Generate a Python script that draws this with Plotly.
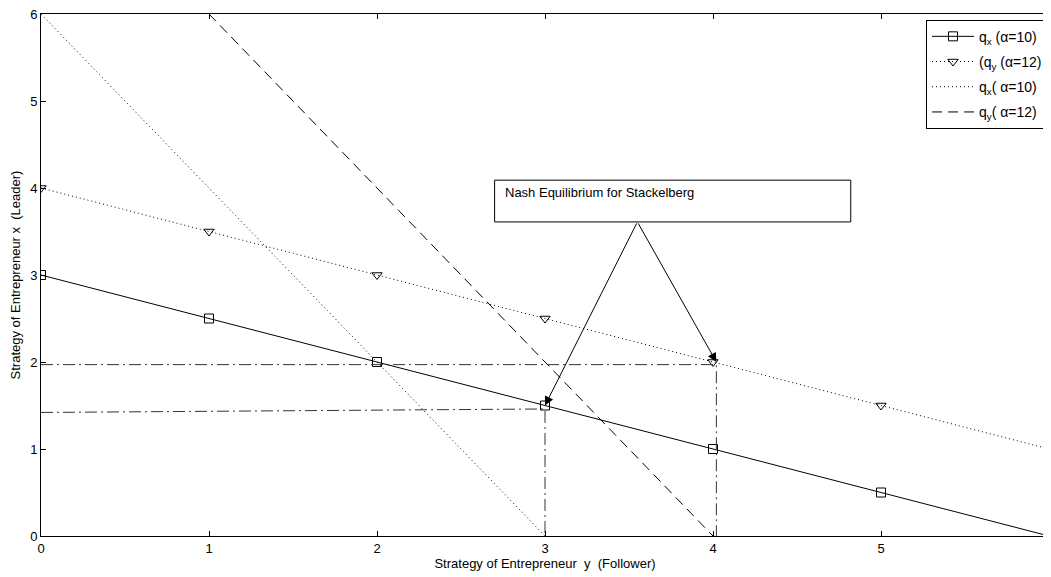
import plotly.graph_objects as go

# strategy values (x axis) and reaction lines
x_pts = [0, 1, 2, 3, 4, 5, 6]
qx_a10 = [3, 2.5, 2, 1.5, 1, 0.5, 0]
qy_a12 = [4, 3.5, 3, 2.5, 2, 1.5, 1]

x_best_x = [0, 3]
y_best_x = [6, 0]
x_best_y = [1, 4]
y_best_y = [6, 0]

# guide lines to the equilibria
guide1_x = [0, 3, 3]
guide1_y = [1.42, 1.46, 0]
guide2_x = [0, 4.02, 4.02]
guide2_y = [1.97, 1.97, 0]

eq_pts = [(3.0, 1.5), (4.02, 2.0)]
arrow_tail = (3.55, 3.61)
box = (2.70, 3.61, 4.82, 4.09)

FAMILY = "Liberation Sans, Arial"
font = dict(family=FAMILY, size=13, color="black")

fig = go.Figure()
fig.add_trace(go.Scatter(
    x=x_pts, y=qx_a10, mode="lines+markers", name="q<sub>x</sub> (α=10)",
    legendgroup="a", line=dict(color="black", width=1),
    marker=dict(symbol="square-open", size=9, color="black", line=dict(width=1)),
))
fig.add_trace(go.Scatter(
    x=x_pts, y=qy_a12, mode="lines+markers", name="(q<sub>y</sub> (α=12)",
    legendgroup="b", line=dict(color="black", width=1, dash="1px,3px"),
    marker=dict(symbol="triangle-down-open", size=9, color="black", line=dict(width=1)),
))
fig.add_trace(go.Scatter(
    x=x_best_x, y=y_best_x, mode="lines", name="q<sub>x</sub>( α=10)",
    legendgroup="c", line=dict(color="black", width=1, dash="1px,3px"),
))
fig.add_trace(go.Scatter(
    x=x_best_y, y=y_best_y, mode="lines", name="q<sub>y</sub>( α=12)",
    legendgroup="d", line=dict(color="black", width=1, dash="10px,6px"),
))
for gx, gy in [(guide1_x, guide1_y), (guide2_x, guide2_y)]:
    fig.add_trace(go.Scatter(
        x=gx, y=gy, mode="lines", showlegend=False,
        line=dict(color="#333333", width=1, dash="12px,4px,2px,4px"),
    ))

fig.add_shape(type="rect", x0=box[0], y0=box[1], x1=box[2], y1=box[3],
              line=dict(color="black", width=1), fillcolor="white")
fig.add_annotation(x=box[0], y=box[3], xref="x", yref="y", text="Nash Equilibrium for Stackelberg",
                   showarrow=False, xanchor="left", yanchor="top", xshift=8, yshift=-3,
                   font=dict(family=FAMILY, size=13, color="black"))
for ex, ey in eq_pts:
    fig.add_annotation(x=ex, y=ey, ax=arrow_tail[0], ay=arrow_tail[1],
                       xref="x", yref="y", axref="x", ayref="y", text="",
                       showarrow=True, arrowhead=2, arrowsize=1.8, arrowwidth=1,
                       arrowcolor="black")

axis_common = dict(showgrid=False, zeroline=False, showline=True, linecolor="black",
                   linewidth=1, mirror="ticks", ticks="inside", ticklen=5,
                   tickcolor="black", tickfont=font, dtick=1, automargin=False,
                   ticklabeloverflow="allow")
fig.update_xaxes(range=[0, 6], title=dict(text="Strategy of Entrepreneur  y  (Follower)", font=font, standoff=2),
                 **axis_common)
fig.update_yaxes(range=[0, 6], title=dict(text="Strategy of Entrepreneur x  (Leader)", font=font, standoff=7),
                 **axis_common)
# page body adds an 8px offset, so the figure is drawn a little smaller
fig.update_layout(
    width=1043, height=569,
    margin=dict(l=33, r=2, t=6, b=41),
    plot_bgcolor="white", paper_bgcolor="white",
    font=font,
    legend=dict(x=0.878, y=0.989, xanchor="left", yanchor="top",
                bordercolor="black", borderwidth=1, bgcolor="white",
                font=dict(family=FAMILY, size=14), itemwidth=42,
                traceorder="grouped", tracegroupgap=4),
)
fig.write_html("out.html")
